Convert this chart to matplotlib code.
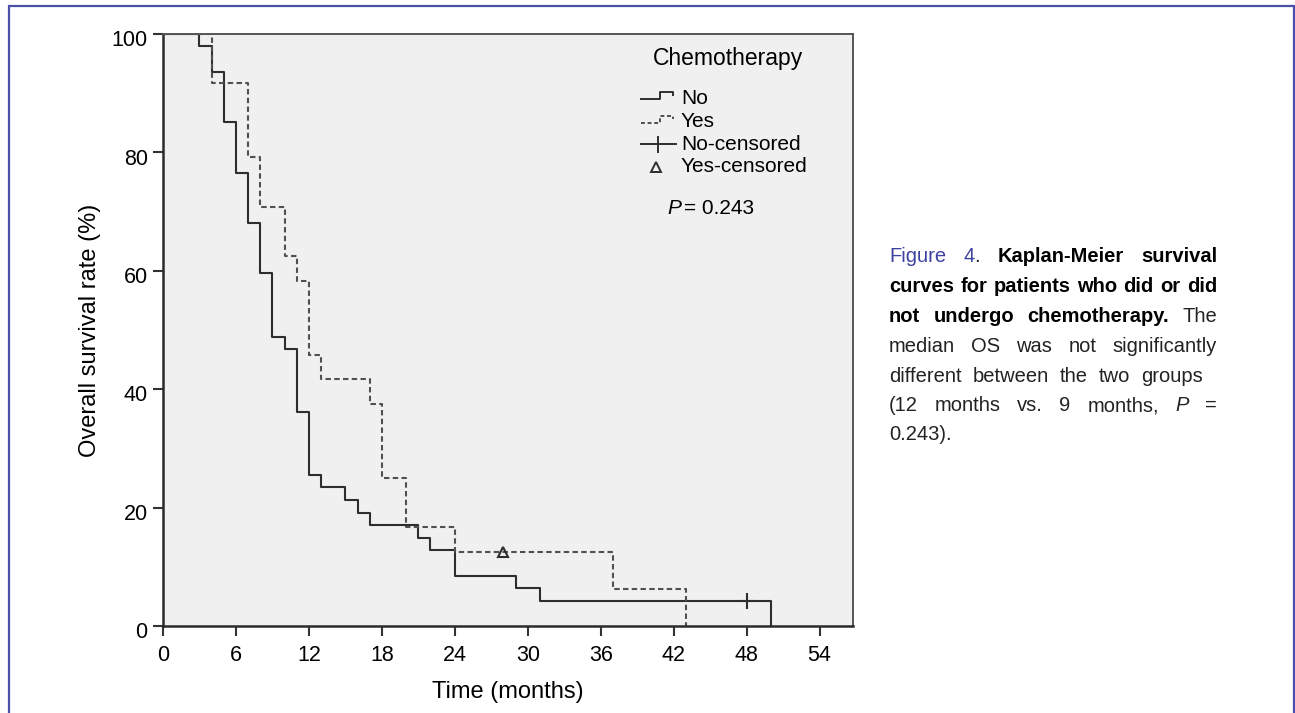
import matplotlib
matplotlib.use("Agg")
import matplotlib.pyplot as plt
import matplotlib.transforms as mtransforms

plt.rcParams['font.family'] = ['Liberation Sans', 'DejaVu Sans']

# Kaplan-Meier steps (months, % surviving)
no_times = [0, 3, 4, 5, 6, 7, 8, 9, 10, 11, 12, 13, 15, 16, 17, 21, 22, 24, 29, 31, 50]
no_surv = [100, 97.9, 93.6, 85.1, 76.6, 68.1, 59.6, 48.9, 46.8, 36.2, 25.5, 23.4,
           21.3, 19.1, 17.0, 14.9, 12.8, 8.5, 6.4, 4.3, 0]
no_cens_t = [48]
no_cens_s = [4.3]

yes_times = [0, 4, 7, 8, 10, 11, 12, 13, 17, 18, 20, 24, 37, 43]
yes_surv = [100, 91.7, 79.2, 70.8, 62.5, 58.3, 45.8, 41.7, 37.5, 25.0, 16.7, 12.5, 6.25, 0]
yes_cens_t = [28]
yes_cens_s = [12.5]

x_ticks = [0, 6, 12, 18, 24, 30, 36, 42, 48, 54]
y_ticks = [0, 20, 40, 60, 80, 100]
legend_labels = ['No', 'Yes', 'No-censored', 'Yes-censored']
p_text = '0.243'

# caption: lines -> words -> (text, style) pieces
caption = [
    [[('Figure', 'f')], [('4', 'f'), ('.', 'r')], [('Kaplan-Meier', 'b')], [('survival', 'b')]],
    [[('curves', 'b')], [('for', 'b')], [('patients', 'b')], [('who', 'b')], [('did', 'b')], [('or', 'b')], [('did', 'b')]],
    [[('not', 'b')], [('undergo', 'b')], [('chemotherapy.', 'b')], [('The', 'r')]],
    [[('median', 'r')], [('OS', 'r')], [('was', 'r')], [('not', 'r')], [('significantly', 'r')]],
    [[('different', 'r')], [('between', 'r')], [('the', 'r')], [('two', 'r')], [('groups', 'r')]],
    [[('(12', 'r')], [('months', 'r')], [('vs.', 'r')], [('9', 'r')], [('months,', 'r')], [('P', 'i')], [('=', 'r')]],
    [[('0.243).', 'r')]],
]

W, H = 1295, 713
fig = plt.figure(figsize=(W / 100, H / 100), dpi=100)
fig.patch.set_facecolor('white')

ax = fig.add_axes([163 / W, (H - 626) / H, 690 / W, 592 / H])
ax.set_facecolor('#f0f0f0')

solid_c = '#2e2e2e'
dash_c = '#505050'
ax.step(no_times, no_surv, where='post', color=solid_c, lw=1.5)
ax.step(yes_times, yes_surv, where='post', color=dash_c, lw=1.5, linestyle=(0, (2.6, 1.6)))
ax.plot(no_cens_t, no_cens_s, ls='none', marker='+', ms=12, mew=1.5, color=solid_c)
ax.plot(yes_cens_t, yes_cens_s, ls='none', marker='^', ms=7, mew=1.5, mfc='none', mec=solid_c)

ax.set_xlim(0, 56.75)
ax.set_ylim(0, 100)
ax.set_xticks(x_ticks)
ax.set_yticks(y_ticks)
ax.tick_params(direction='out', length=7.5, width=1.5, color='#333333', labelsize=15.5)
ax.tick_params(axis='x', pad=6)
ax.tick_params(axis='y', pad=3.5)
for lab in ax.get_yticklabels():
    lab.set_transform(lab.get_transform() + mtransforms.ScaledTranslation(0, -3 / 72, fig.dpi_scale_trans))
for side in ['left', 'bottom']:
    ax.spines[side].set_linewidth(1.8)
    ax.spines[side].set_color('#2a2a2a')
for side in ['top', 'right']:
    ax.spines[side].set_linewidth(1.4)
    ax.spines[side].set_color('#555555')

ax.set_xlabel('Time (months)', fontsize=17)
ax.set_ylabel('Overall survival rate (%)', fontsize=17)
ax.xaxis.set_label_coords(0.5, -0.093)
ax.yaxis.set_label_coords(-0.09, 0.5)

# overlay in figure pixels for frame, legend and caption
ov = fig.add_axes([0, 0, 1, 1], zorder=5)
ov.set_xlim(0, W)
ov.set_ylim(H, 0)
ov.axis('off')
ov.patch.set_alpha(0)

frame_c = '#4b50a8'
ov.plot([9, 9, 1293.5, 1293.5], [H, 6, 6, H], color=frame_c, lw=1.6, solid_joinstyle='miter')

# legend
ov.text(728, 59, 'Chemotherapy', fontsize=16.5, ha='center', va='center')
ov.plot([641, 660, 660, 673, 673], [99, 99, 91.5, 91.5, 95], color=solid_c, lw=1.4)
ov.plot([641, 660, 660, 673, 673], [123, 123, 115.5, 115.5, 119], color=dash_c, lw=1.4,
        linestyle=(0, (2, 1.4)))
ov.plot([641, 676], [144, 144], color=solid_c, lw=1.4)
ov.plot([658, 658], [136.5, 152], color=solid_c, lw=1.4)
ov.plot([656], [167], ls='none', marker='^', ms=7, mew=1.4, mfc='none', mec=solid_c)
for lab, y in zip(legend_labels, [98, 121.5, 144, 166.5]):
    ov.text(681, y, lab, fontsize=15, ha='left', va='center')
ov.text(667, 208, 'P', fontsize=15, style='italic', ha='left', va='center')
ov.text(684, 208, '= ' + p_text, fontsize=15, ha='left', va='center')

# caption, justified word by word
cap_font = ['Liberation Sans Narrow', 'Liberation Sans', 'DejaVu Sans']
styles = {
    'r': dict(color='#222222', fontweight='normal', style='normal'),
    'b': dict(color='black', fontweight='bold', style='normal'),
    'i': dict(color='#222222', fontweight='normal', style='italic'),
    'f': dict(color='#3d42a0', fontweight='normal', style='normal'),
}
baselines = [262, 292, 322, 351.5, 381.5, 411, 440.5]
rights = [1217, 1217, 1217, 1217, 1203, 1217, None]
x0 = 889
renderer = fig.canvas.get_renderer()
for words, yb, x1 in zip(caption, baselines, rights):
    objs = []
    widths = []
    for word in words:
        pieces = []
        wsum = 0
        for txt, st in word:
            t = ov.text(0, yb, txt, fontsize=14.5, family=cap_font, ha='left', va='baseline', **styles[st])
            w = t.get_window_extent(renderer).width
            pieces.append((t, w))
            wsum += w
        objs.append(pieces)
        widths.append(wsum)
    if x1 is None or len(words) == 1:
        gap = 5
    else:
        gap = (x1 - x0 - sum(widths)) / (len(words) - 1)
    x = x0
    for pieces, wsum in zip(objs, widths):
        for t, w in pieces:
            t.set_x(x)
            x += w
        x += gap

fig.savefig('out.png', dpi=100)
